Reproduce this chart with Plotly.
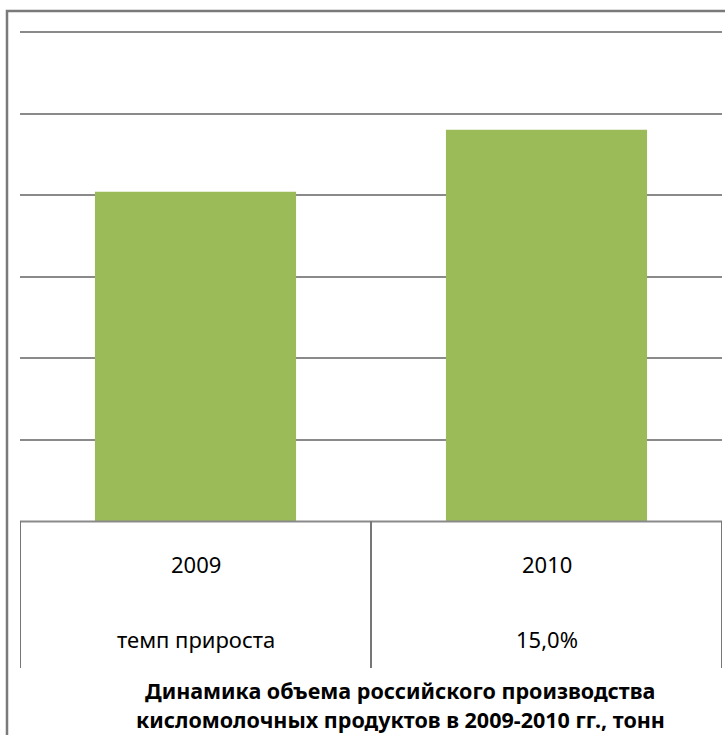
import plotly.graph_objects as go

# Data
years = ["2009", "2010"]
volumes = [2020000, 2400000]          # tonnes
growth_labels = ["темп прироста", "15,0%"]
title_lines = ["Динамика объема российского производства",
               "кисломолочных продуктов в 2009-2010 гг., тонн"]
y_max = 3000000
y_step = 500000

W, H = 725, 735


def px_x(v):
    return v / W


def px_y(v):
    return 1 - v / H


FONT = "Noto Sans"
GRID = "#8a8a8a"

BASE_PX, TOP_PX = 521, 32
EXTRA = 1.02
top_domain_px = BASE_PX - (BASE_PX - TOP_PX) * EXTRA

fig = go.Figure(go.Bar(x=years, y=volumes, marker=dict(color="#9BBB59", line=dict(width=0)),
                       width=0.573, hoverinfo="skip"))

fig.update_layout(
    width=W, height=H,
    margin=dict(l=0, r=0, t=0, b=0),
    paper_bgcolor="white", plot_bgcolor="white",
    showlegend=False,
    xaxis=dict(type="category", domain=[px_x(20), px_x(722)], showticklabels=False, showgrid=False,
               zeroline=False, showline=False, ticks="", range=[-0.5, 1.5]),
    yaxis=dict(domain=[px_y(BASE_PX), px_y(top_domain_px)], range=[0, y_max * EXTRA],
               tickmode="linear", tick0=0, dtick=y_step,
               showticklabels=False, showgrid=True, gridcolor=GRID, gridwidth=2,
               zeroline=False, showline=False, ticks=""),
)

shapes = []
# outer chart frame (extends beyond the cropped picture)
shapes.append(dict(type="rect", xref="paper", yref="paper",
                   x0=px_x(7), x1=px_x(760), y0=px_y(770), y1=px_y(11),
                   line=dict(color="#7a7a7a", width=2.5), fillcolor="rgba(0,0,0,0)", layer="below"))
# table top (category axis line)
shapes.append(dict(type="line", xref="x", yref="paper", x0=-0.5, x1=1.5,
                   y0=px_y(521.5), y1=px_y(521.5), line=dict(color=GRID, width=2)))
# table verticals at category boundaries
for xb in [-0.5, 0.5, 1.5]:
    shapes.append(dict(type="line", xref="x", yref="paper", x0=xb, x1=xb,
                       y0=px_y(521), y1=px_y(668), line=dict(color="#777777", width=2)))
fig.update_layout(shapes=shapes)

ann = []
for i, yr in enumerate(years):
    ann.append(dict(x=i, xref="x", y=px_y(564), yref="paper", text=yr, showarrow=False,
                    font=dict(family=FONT, size=22, color="#000000"), xanchor="center", yanchor="middle"))
    ann.append(dict(x=i, xref="x", y=px_y(639), yref="paper", text=growth_labels[i], showarrow=False,
                    font=dict(family=FONT, size=22, color="#000000"), xanchor="center", yanchor="middle"))
for line, yy in zip(title_lines, [690, 719.5]):
    ann.append(dict(x=px_x(400), xref="paper", y=px_y(yy), yref="paper", text="<b>" + line + "</b>",
                    showarrow=False, font=dict(family=FONT, size=21.5, color="#000000"),
                    xanchor="center", yanchor="middle"))
fig.update_layout(annotations=ann)

fig.write_html("out.html", config={"displayModeBar": False},
               post_script="document.body.style.margin='0';")
